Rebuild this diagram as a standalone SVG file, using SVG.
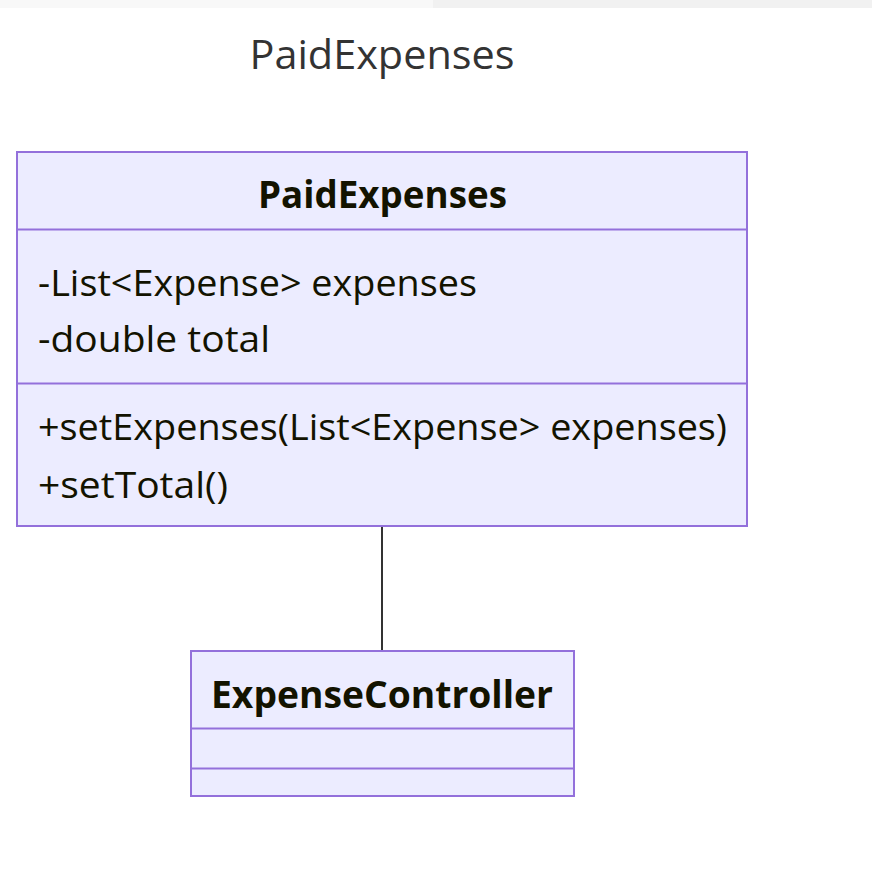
<svg xmlns="http://www.w3.org/2000/svg" width="872" height="882" viewBox="0 0 872 882">
<style>
.box{fill:#ECECFF;stroke:#9370DB;stroke-width:2}
.div{stroke:#9370DB;stroke-width:2}
.t{font-family:"Open Sans","Noto Sans",sans-serif;fill:#131300;font-size:37px}
.b{font-weight:bold;text-anchor:middle}
.title{font-family:"Open Sans","Noto Sans",sans-serif;fill:#333;font-size:41px;text-anchor:middle}
.edge{stroke:#333;stroke-width:2;fill:none}
</style>
<rect x="0" y="0" width="872" height="882" fill="#fff"/>
<rect x="0" y="0" width="433" height="8" fill="#f8f8f8"/>
<rect x="433" y="0" width="439" height="8" fill="#f1f1f1"/>
<text class="title" x="382" y="69" textLength="265" lengthAdjust="spacingAndGlyphs">PaidExpenses</text>
<g id="edges">
<line class="edge" x1="382" y1="526" x2="382" y2="651"/>
</g>
<g id="PaidExpenses">
<rect class="box" x="17" y="152" width="730" height="374"/>
<line class="div" x1="17" y1="229.5" x2="747" y2="229.5"/>
<line class="div" x1="17" y1="383.5" x2="747" y2="383.5"/>
<text class="t b" x="382.5" y="208" textLength="249" lengthAdjust="spacingAndGlyphs">PaidExpenses</text>
<text class="t" x="38" y="296" textLength="439" lengthAdjust="spacingAndGlyphs">-List&lt;Expense&gt; expenses</text>
<text class="t" x="38" y="352" textLength="232" lengthAdjust="spacingAndGlyphs">-double total</text>
<text class="t" x="38" y="440" textLength="689" lengthAdjust="spacingAndGlyphs">+setExpenses(List&lt;Expense&gt; expenses)</text>
<text class="t" x="38" y="498" textLength="190" lengthAdjust="spacingAndGlyphs">+setTotal()</text>
</g>
<g id="ExpenseController">
<rect class="box" x="191" y="651" width="383" height="145"/>
<line class="div" x1="191" y1="728.5" x2="574" y2="728.5"/>
<line class="div" x1="191" y1="768.5" x2="574" y2="768.5"/>
<text class="t b" x="382" y="708" textLength="342" lengthAdjust="spacingAndGlyphs">ExpenseController</text>
</g>
</svg>
